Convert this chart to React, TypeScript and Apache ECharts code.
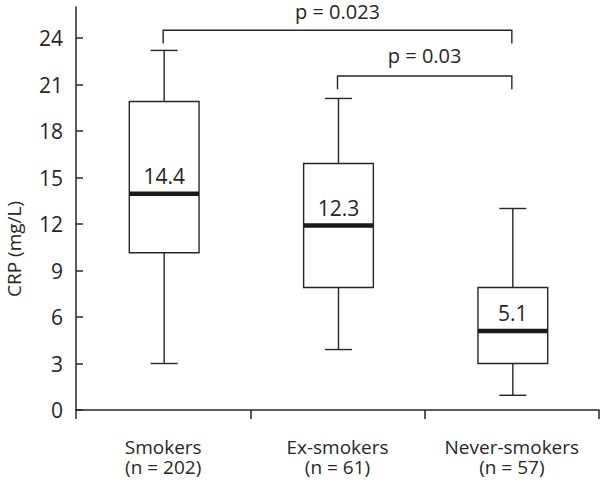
import React, { useEffect, useRef } from 'react';
import * as echarts from 'echarts';

const groups = ['Smokers', 'Ex-smokers', 'Never-smokers'];
const groupN = [202, 61, 57];
const whiskerLow = [3.0, 3.9, 0.95];
const q1 = [10.15, 7.9, 3.0];
const median = [13.95, 11.9, 5.1];
const q3 = [19.9, 15.9, 7.9];
const whiskerHigh = [23.2, 20.1, 13.0];
const medianLabels = ['14.4', '12.3', '5.1'];
const yTicks = [0, 3, 6, 9, 12, 15, 18, 21, 24];
const yTitle = 'CRP (mg/L)';

const bracketFrom = [0, 1];
const bracketTo = [2, 2];
const bracketLevel = [24.5, 21.55];
const bracketEnd = [23.65, 20.7];
const pLabels = ['p = 0.023', 'p = 0.03'];
const pLabelLevel = [25.7, 22.9];

const FONT = '"Open Sans", "Noto Sans", sans-serif';
const INK = '#262626';

export default function App() {
  const ref = useRef<HTMLDivElement>(null);
  useEffect(() => {
    if (!ref.current) return;
    const chart = echarts.init(ref.current, null, { renderer: 'svg' });
    const boxData = groups.map((_, i) => [i, whiskerLow[i], q1[i], median[i], q3[i], whiskerHigh[i]]);
    const bracketData = bracketFrom.map((f, i) => [f, bracketTo[i], bracketLevel[i], bracketEnd[i], pLabelLevel[i]]);
    chart.setOption({
      animation: false,
      backgroundColor: '#ffffff',
      grid: { left: 76, right: 1, top: 7, bottom: 72, containLabel: false },
      graphic: [
        {
          type: 'text',
          x: 14,
          y: 249,
          rotation: Math.PI / 2,
          style: {
            text: yTitle,
            textAlign: 'center',
            textVerticalAlign: 'middle',
            fontSize: 19,
            fontFamily: FONT,
            fill: INK,
          },
        },
      ],
      xAxis: [
        {
          type: 'category',
          data: groups,
          boundaryGap: true,
          axisLine: { show: true, onZero: false, lineStyle: { color: INK, width: 1.5 } },
          axisTick: { show: true, inside: false, length: 9, lineStyle: { color: INK, width: 1.5 } },
          axisLabel: {
            interval: 0,
            margin: 27,
            fontSize: 19,
            lineHeight: 20,
            fontFamily: FONT,
            color: INK,
            formatter: (v: string, idx: number) => `${v}\n(n = ${groupN[idx]})`,
          },
          splitLine: { show: false },
        },
        {
          type: 'value',
          min: -0.5,
          max: 2.5,
          show: false,
          axisLine: { onZero: false },
        },
      ],
      yAxis: {
        type: 'value',
        min: 0,
        max: 26,
        interval: 3,
        axisLine: { show: true, onZero: false, lineStyle: { color: INK, width: 1.5 } },
        axisTick: { show: true, inside: true, length: 7, customValues: yTicks, lineStyle: { color: INK, width: 1.5 } },
        axisLabel: { margin: 13, fontSize: 21, fontFamily: FONT, color: INK, customValues: yTicks },
        splitLine: { show: false },
      },
      series: [
        {
          type: 'custom',
          xAxisIndex: 0,
          data: boxData,
          encode: { x: 0, y: [1, 2, 3, 4, 5] },
          renderItem: (params: any, api: any) => {
            const idx = api.value(0);
            const lo = api.coord([idx, api.value(1)]);
            const b1 = api.coord([idx, api.value(2)]);
            const md = api.coord([idx, api.value(3)]);
            const b3 = api.coord([idx, api.value(4)]);
            const hi = api.coord([idx, api.value(5)]);
            const band = api.size([1, 0])[0];
            const bw = band * 0.4;
            const cw = 27;
            const cx = lo[0] + 1;
            const lineStyle = { stroke: INK, lineWidth: 1.4, fill: 'none' };
            return {
              type: 'group',
              children: [
                { type: 'line', shape: { x1: cx, y1: hi[1], x2: cx, y2: b3[1] }, style: lineStyle },
                { type: 'line', shape: { x1: cx - cw / 2, y1: hi[1], x2: cx + cw / 2, y2: hi[1] }, style: lineStyle },
                { type: 'line', shape: { x1: cx, y1: b1[1], x2: cx, y2: lo[1] }, style: lineStyle },
                { type: 'line', shape: { x1: cx - cw / 2, y1: lo[1], x2: cx + cw / 2, y2: lo[1] }, style: lineStyle },
                { type: 'rect', shape: { x: cx - bw / 2, y: b3[1], width: bw, height: b1[1] - b3[1] }, style: { stroke: INK, lineWidth: 1.4, fill: '#ffffff' } },
                { type: 'line', shape: { x1: cx - bw / 2, y1: md[1], x2: cx + bw / 2, y2: md[1] }, style: { stroke: '#1a1a1a', lineWidth: 4.5 } },
                {
                  type: 'text',
                  style: {
                    text: medianLabels[idx],
                    x: cx,
                    y: md[1] - 7,
                    textAlign: 'center',
                    textVerticalAlign: 'bottom',
                    fontSize: 21,
                    fontFamily: FONT,
                    fill: INK,
                  },
                },
              ],
            };
          },
        },
        {
          type: 'custom',
          xAxisIndex: 1,
          data: bracketData,
          encode: { x: [0, 1], y: [2, 3, 4] },
          renderItem: (params: any, api: any) => {
            const f = api.value(0);
            const t = api.value(1);
            const p1 = api.coord([f, api.value(3)]);
            const p2 = api.coord([f, api.value(2)]);
            const p3 = api.coord([t, api.value(2)]);
            const p4 = api.coord([t, api.value(3)]);
            const lp = api.coord([(f + t) / 2, api.value(4)]);
            return {
              type: 'group',
              children: [
                {
                  type: 'polyline',
                  shape: { points: [p1, p2, p3, p4] },
                  style: { stroke: INK, lineWidth: 1.4, fill: 'none' },
                },
                {
                  type: 'text',
                  style: {
                    text: pLabels[params.dataIndex],
                    x: lp[0],
                    y: lp[1],
                    textAlign: 'center',
                    textVerticalAlign: 'middle',
                    fontSize: 20,
                    fontFamily: FONT,
                    fill: INK,
                  },
                },
              ],
            };
          },
        },
      ],
    });
    return () => chart.dispose();
  }, []);
  return <div ref={ref} style={{ width: 600, height: 482, position: 'absolute', left: 0, top: 0 }} />;
}
